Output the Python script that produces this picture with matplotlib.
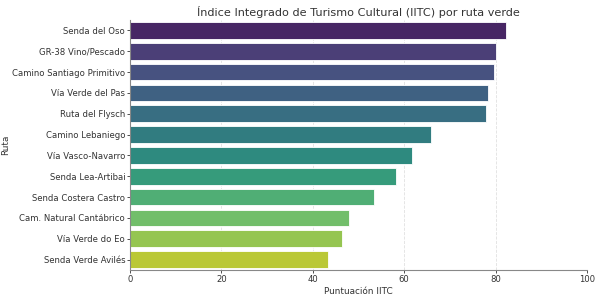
import numpy as np
import pandas as pd
import matplotlib
matplotlib.use("Agg")
import matplotlib.pyplot as plt
import seaborn as sns

# data
rutas = ['Senda del Oso', 'GR-38 Vino/Pescado', 'Camino Santiago Primitivo',
         'Vía Verde del Pas', 'Ruta del Flysch', 'Camino Lebaniego',
         'Vía Vasco-Navarro', 'Senda Lea-Artibai', 'Senda Costera Castro',
         'Cam. Natural Cantábrico', 'Vía Verde do Eo', 'Senda Verde Avilés']
iitc = [82.3, 80.0, 79.7, 78.3, 77.9, 65.8, 61.8, 58.2, 53.4, 48.0, 46.4, 43.4]
x_ticks = [0, 20, 40, 60, 80, 100]

df = pd.DataFrame({'Ruta': rutas, 'IITC': iitc})

fig = plt.figure(figsize=(6, 2.98), dpi=100)
ax = fig.add_axes([0.2167, 0.094, 0.7617, 0.839])

sns.barplot(data=df, y='Ruta', x='IITC', hue='Ruta', palette='viridis',
            legend=False, ax=ax, edgecolor='white', linewidth=0.6)

ax.set_xlim(0, 100)
ax.set_xticks(x_ticks)
ax.grid(axis='x', linestyle='--', color='#cccccc', linewidth=0.6, alpha=0.6)
ax.set_axisbelow(True)

for s in ['top', 'right']:
    ax.spines[s].set_visible(False)
for s in ['left', 'bottom']:
    ax.spines[s].set_color('#888888')
    ax.spines[s].set_linewidth(0.8)

ax.tick_params(axis='both', labelsize=6.1, colors='#333333', length=2, width=0.6, pad=1.5)
ax.set_xlabel('Puntuación IITC', fontsize=6.4, color='#333333', labelpad=2)
ax.set_ylabel('Ruta', fontsize=6.4, color='#333333')
ax.yaxis.set_label_coords(-0.262, 0.5)
ax.set_title('Índice Integrado de Turismo Cultural (IITC) por ruta verde',
             fontsize=8.1, color='#333333', pad=3)

fig.savefig('out.png', dpi=100)
